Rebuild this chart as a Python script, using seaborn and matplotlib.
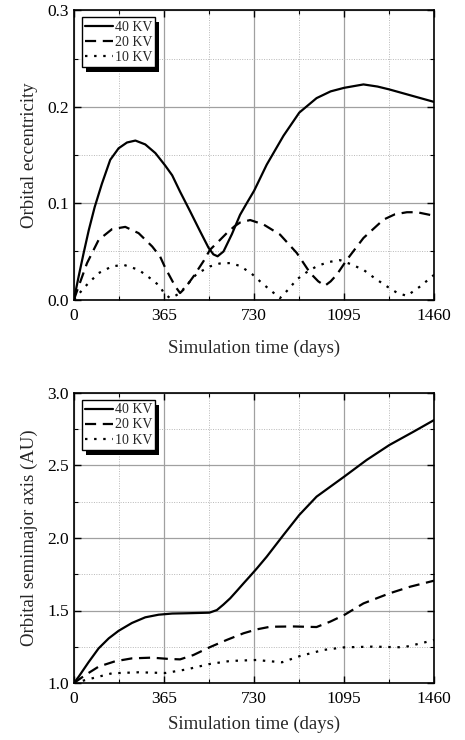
import numpy as np
import pandas as pd
import matplotlib
matplotlib.use("Agg")
import matplotlib.pyplot as plt
import seaborn as sns
from matplotlib.ticker import MultipleLocator
from matplotlib.patches import Rectangle

# ---------------- data ----------------
series_names = ["40 KV", "20 KV", "10 KV"]

# Orbital eccentricity
ecc40_day = [0, 19, 39, 60, 84, 113, 147, 181, 215, 249, 289, 330, 370, 398, 430, 470, 511, 545, 565, 582, 606, 640, 673, 700, 730, 781, 849, 913, 983, 1040, 1095, 1173, 1230, 1278, 1376, 1460]
ecc40_val = [0.0, 0.024, 0.048, 0.072, 0.096, 0.12, 0.145, 0.157, 0.163, 0.165, 0.161, 0.152, 0.139, 0.129, 0.112, 0.092, 0.071, 0.054, 0.047, 0.045, 0.05, 0.068, 0.088, 0.10, 0.113, 0.14, 0.170, 0.194, 0.209, 0.216, 0.2197, 0.2232, 0.221, 0.218, 0.211, 0.205]

ecc20_day = [0, 19, 53, 100, 154, 208, 262, 317, 349, 370, 389, 410, 430, 450, 484, 525, 551, 592, 619, 650, 673, 714, 768, 835, 903, 957, 990, 1017, 1040, 1065, 1106, 1173, 1254, 1300, 1349, 1390, 1460]
ecc20_val = [0.0, 0.0138, 0.0379, 0.062, 0.0731, 0.0755, 0.069, 0.0552, 0.0448, 0.033, 0.024, 0.014, 0.0069, 0.012, 0.024, 0.04, 0.0517, 0.062, 0.069, 0.076, 0.080, 0.0826, 0.078, 0.0675, 0.0484, 0.0277, 0.019, 0.0145, 0.019, 0.026, 0.0415, 0.064, 0.083, 0.0885, 0.0907, 0.0907, 0.087]

ecc10_day = [0, 46, 100, 154, 201, 262, 317, 349, 364, 389, 410, 430, 460, 498, 551, 590, 632, 673, 720, 754, 795, 835, 870, 903, 940, 983, 1030, 1078, 1120, 1173, 1220, 1268, 1310, 1349, 1403, 1460]
ecc10_val = [0.0, 0.0138, 0.0276, 0.0345, 0.0362, 0.031, 0.0207, 0.0138, 0.0069, 0.0017, 0.004, 0.0069, 0.016, 0.027, 0.0345, 0.0375, 0.038, 0.035, 0.027, 0.019, 0.01, 0.0017, 0.011, 0.021, 0.028, 0.0346, 0.039, 0.041, 0.037, 0.031, 0.022, 0.0138, 0.007, 0.004, 0.0138, 0.026]

# Orbital semimajor axis (AU)
sma40_day = [0, 19, 59, 100, 141, 181, 235, 289, 343, 398, 457, 549, 579, 605, 633, 660, 687, 714, 741, 781, 849, 913, 983, 1095, 1186, 1278, 1376, 1460]
sma40_val = [1.0, 1.043, 1.143, 1.239, 1.308, 1.36, 1.414, 1.453, 1.471, 1.479, 1.481, 1.485, 1.503, 1.54, 1.584, 1.635, 1.687, 1.738, 1.79, 1.871, 2.021, 2.159, 2.285, 2.423, 2.538, 2.641, 2.733, 2.814]

sma20_day = [0, 46, 100, 167, 235, 316, 384, 430, 484, 549, 619, 687, 741, 795, 889, 983, 1038, 1095, 1173, 1278, 1362, 1460]
sma20_val = [1.0, 1.055, 1.113, 1.15, 1.17, 1.175, 1.166, 1.163, 1.193, 1.246, 1.297, 1.343, 1.37, 1.388, 1.39, 1.386, 1.423, 1.469, 1.549, 1.618, 1.664, 1.706]

sma10_day = [0, 73, 154, 262, 370, 457, 549, 633, 741, 781, 843, 916, 1011, 1095, 1213, 1335, 1416, 1460]
sma10_val = [1.0, 1.032, 1.067, 1.074, 1.069, 1.094, 1.131, 1.152, 1.159, 1.152, 1.143, 1.186, 1.228, 1.246, 1.251, 1.246, 1.278, 1.297]

x_ticks = [0, 365, 730, 1095, 1460]
ecc_ticks = [0.0, 0.1, 0.2, 0.3]
sma_ticks = [1.0, 1.5, 2.0, 2.5, 3.0]
x_label = "Simulation time (days)"
ecc_label = "Orbital eccentricity"
sma_label = "Orbital semimajor axis (AU)"


def long_df(pairs):
    frames = []
    for name, (d, v) in zip(series_names, pairs):
        frames.append(pd.DataFrame({"day": d, "val": v, "series": name}))
    return pd.concat(frames, ignore_index=True)


ecc_df = long_df([(ecc40_day, ecc40_val), (ecc20_day, ecc20_val), (ecc10_day, ecc10_val)])
sma_df = long_df([(sma40_day, sma40_val), (sma20_day, sma20_val), (sma10_day, sma10_val)])

# ---------------- style ----------------
sns.set_theme(style="white")
plt.rcParams["font.family"] = ["Liberation Serif", "DejaVu Serif"]

dash_map = {"40 KV": "", "20 KV": (5.0, 3.0), "10 KV": (1.1, 3.0)}

fig = plt.figure(figsize=(4.65, 7.4), dpi=100)
ax1 = fig.add_axes([0.159, 0.595, 0.775, 0.391])
ax2 = fig.add_axes([0.159, 0.077, 0.775, 0.392])


def style_axes(ax, yticks, ylabel, ymin, ymax, yminor, xpad):
    ax.set_xlim(0, 1460)
    ax.set_ylim(ymin, ymax)
    ax.set_xticks(x_ticks)
    ax.set_yticks(yticks)
    ax.xaxis.set_minor_locator(MultipleLocator(182.5))
    ax.yaxis.set_minor_locator(MultipleLocator(yminor))
    ax.set_xticklabels([str(t) for t in x_ticks])
    ax.set_yticklabels([f"{t:.1f}" for t in yticks])
    ax.grid(which="major", color="#a0a0a0", linewidth=0.9, linestyle="-")
    ax.grid(which="minor", color="#b8b8b8", linewidth=0.7, linestyle=(0, (1, 1.5)))
    ax.set_axisbelow(True)
    ax.tick_params(which="both", direction="in", top=True, right=True,
                   bottom=True, left=True, colors="black", labelsize=12.5)
    ax.tick_params(which="major", length=5, width=1)
    ax.tick_params(which="minor", length=3, width=0.8)
    ax.tick_params(axis="x", which="major", pad=6)
    for s in ax.spines.values():
        s.set_color("black")
        s.set_linewidth(1.2)
    ax.set_xlabel(x_label, fontsize=13.5, labelpad=xpad)
    ax.set_ylabel(ylabel, fontsize=13.5, labelpad=7)


for ax, df in [(ax1, ecc_df), (ax2, sma_df)]:
    sns.lineplot(data=df, x="day", y="val", style="series", style_order=series_names,
                 dashes=dash_map, color="black", linewidth=1.6, estimator=None,
                 sort=False, ax=ax)

style_axes(ax1, ecc_ticks, ecc_label, 0.0, 0.3, 0.05, 11)
style_axes(ax2, sma_ticks, sma_label, 1.0, 3.0, 0.25, 6)

legends = []
for ax in (ax1, ax2):
    handles, labels = ax.get_legend_handles_labels()
    if ax.get_legend() is not None:
        ax.get_legend().remove()
    leg = ax.legend(handles, labels, loc="upper left", bbox_to_anchor=(0.022, 0.976),
                    fontsize=10, frameon=True, fancybox=False, framealpha=1,
                    edgecolor="black", handlelength=2.0, handletextpad=0.1,
                    labelspacing=0.15, borderpad=0.25, borderaxespad=0.0)
    leg.get_frame().set_linewidth(1.0)
    leg.set_zorder(6)
    legends.append((ax, leg))

# solid black drop shadow behind each legend frame
fig.canvas.draw()
inv = fig.transFigure.inverted()
for ax, leg in legends:
    bb = leg.get_frame().get_window_extent(fig.canvas.get_renderer())
    (x0, y0), (x1, y1) = inv.transform([[bb.x0 + 4, bb.y0 - 5], [bb.x1 + 4, bb.y1 - 5]])
    ax.add_patch(Rectangle((x0, y0), x1 - x0, y1 - y0, transform=fig.transFigure,
                           facecolor="black", edgecolor="none", zorder=5.5,
                           clip_on=False))

fig.savefig("out.png", dpi=100, facecolor="white")
